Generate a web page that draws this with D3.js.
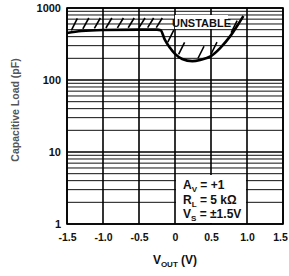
<!DOCTYPE html>
<html>
<head>
<meta charset="utf-8">
<script src="https://cdn.jsdelivr.net/npm/d3@7"></script>
<style>
  body { margin: 0; background: #fff; }
  text { font-family: "Liberation Sans", Arial, sans-serif; font-weight: bold; }
</style>
</head>
<body>
<svg id="chart" width="289" height="276"></svg>
<script>
"use strict";

// boundary of the unstable region
var vout = [-1.5, -1.3, -1.0, -0.5, -0.25, -0.2, -0.14, -0.07, 0.0, 0.1, 0.24, 0.35, 0.5, 0.63, 0.77, 0.88, 0.95];
var capLoad = [450, 480, 495, 500, 500, 490, 360, 280, 230, 196, 183, 190, 215, 280, 410, 600, 775];

var xTicks = [-1.5, -1.0, -0.5, 0, 0.5, 1.0, 1.5];
var xTickLabels = ["-1.5", "-1.0", "-0.5", "0", "0.5", "1.0", "1.5"];
var yTicks = [1, 10, 100, 1000];

// where the hatch slashes sit along the boundary
var hatchV = [-1.44, -1.28, -1.12, -0.96, -0.8, -0.65, -0.5, -0.38, -0.26, -0.1, 0.05, 0.32, 0.5, 0.78];

var margin = { top: 8, right: 6, bottom: 52, left: 67 };
var width = 289, height = 276;

var svg = d3.select("#chart");

var x = d3.scaleLinear().domain([-1.5, 1.5]).range([margin.left, width - margin.right]);
var y = d3.scaleLog().domain([1, 1000]).range([height - margin.bottom, margin.top]);

var grid = svg.append("g");

// minor horizontal grid
var minor = [];
[1, 10, 100].forEach(function (d) {
    for (var k = 2; k <= 9; k++) minor.push(d * k);
});

grid.selectAll(".hminor").data(minor).enter().append("line")
    .attr("x1", x(-1.5)).attr("x2", x(1.5))
    .attr("y1", function (d) { return y(d); })
    .attr("y2", function (d) { return y(d); })
    .attr("stroke", "#111").attr("stroke-width", 1);

grid.selectAll(".hmajor").data(yTicks).enter().append("line")
    .attr("x1", x(-1.5)).attr("x2", x(1.5))
    .attr("y1", function (d) { return y(d); })
    .attr("y2", function (d) { return y(d); })
    .attr("stroke", "#000").attr("stroke-width", 1.5);

grid.selectAll(".vline").data(xTicks).enter().append("line")
    .attr("x1", function (d) { return x(d); })
    .attr("x2", function (d) { return x(d); })
    .attr("y1", y(1)).attr("y2", y(1000))
    .attr("stroke", "#000").attr("stroke-width", 1.6);

// axes (labels only)
var xAxis = d3.axisBottom(x).tickValues(xTicks)
    .tickFormat(function (d, i) { return xTickLabels[i]; })
    .tickSize(0).tickPadding(10);
svg.append("g").attr("transform", "translate(0," + y(1) + ")").call(xAxis)
    .call(function (g) { g.select(".domain").remove(); })
    .selectAll("text").attr("font-size", 10.5).attr("fill", "#111")
    .attr("dx", function (d) { return d === 1.5 ? -3 : 0; })
    .style("font-family", "'Liberation Sans', Arial, sans-serif").style("font-weight", "bold");

var yAxis = d3.axisLeft(y).tickValues(yTicks)
    .tickFormat(d3.format("d")).tickSize(0).tickPadding(6);
svg.append("g").attr("transform", "translate(" + x(-1.5) + ",0)").call(yAxis)
    .call(function (g) { g.select(".domain").remove(); })
    .selectAll("text").attr("font-size", 11).attr("fill", "#111")
    .style("font-family", "'Liberation Sans', Arial, sans-serif").style("font-weight", "bold");

// conditions box
var box = svg.append("g");
box.append("rect")
    .attr("x", x(0) + 1).attr("y", 175)
    .attr("width", x(1.0) - x(0) - 2).attr("height", y(1) - 175 - 1)
    .attr("fill", "#fff");

var note = box.append("text").attr("x", x(0) + 8).attr("font-size", 12).attr("fill", "#111");
var l1 = note.append("tspan").attr("x", x(0) + 8).attr("y", 189);
l1.append("tspan").text("A");
l1.append("tspan").attr("font-size", 8).attr("dy", 3).text("V");
l1.append("tspan").attr("dy", -3).text(" = +1");
var l2 = note.append("tspan").attr("x", x(0) + 8).attr("y", 204);
l2.append("tspan").text("R");
l2.append("tspan").attr("font-size", 8).attr("dy", 3).text("L");
l2.append("tspan").attr("dy", -3).text(" = 5 k\u03A9");
var l3 = note.append("tspan").attr("x", x(0) + 8).attr("y", 218);
l3.append("tspan").text("V");
l3.append("tspan").attr("font-size", 8).attr("dy", 3).text("S");
l3.append("tspan").attr("dy", -3).text(" = \u00B11.5V");

// UNSTABLE label
svg.append("rect").attr("x", 175).attr("y", 15).attr("width", 53).attr("height", 14).attr("fill", "#fff");
svg.append("text").attr("x", 201.5).attr("y", 26.5).attr("text-anchor", "middle")
    .attr("font-size", 11).attr("fill", "#111").text("UNSTABLE");

// boundary curve
var pts = vout.map(function (v, i) { return [v, capLoad[i]]; });
var line = d3.line()
    .x(function (d) { return x(d[0]); })
    .y(function (d) { return y(d[1]); })
    .curve(d3.curveMonotoneX);

svg.append("path").datum(pts)
    .attr("d", line)
    .attr("fill", "none").attr("stroke", "#000")
    .attr("stroke-width", 2.6).attr("stroke-linejoin", "round");

// hatch slashes on the unstable side
var capAt = d3.scaleLinear().domain(vout).range(capLoad);
svg.append("g").selectAll("line").data(hatchV).enter().append("line")
    .attr("x1", function (d) { return x(d); })
    .attr("y1", function (d) { return y(capAt(d)) - 2; })
    .attr("x2", function (d) { return x(d) + 6; })
    .attr("y2", function (d) { return Math.max(y(capAt(d)) - 14, y(1000) + 10); })
    .attr("stroke", "#000").attr("stroke-width", 1.6);

// border
svg.append("rect")
    .attr("x", x(-1.5)).attr("y", y(1000))
    .attr("width", x(1.5) - x(-1.5)).attr("height", y(1) - y(1000))
    .attr("fill", "none").attr("stroke", "#000").attr("stroke-width", 1.6);

// axis titles
var xt = svg.append("text").attr("x", 175).attr("y", 264).attr("text-anchor", "middle")
    .attr("font-size", 12).attr("fill", "#111");
xt.append("tspan").text("V");
xt.append("tspan").attr("font-size", 8).attr("dy", 3).text("OUT");
xt.append("tspan").attr("dy", -3).text(" (V)");

svg.append("text")
    .attr("transform", "translate(19,110) rotate(-90)")
    .attr("text-anchor", "middle").attr("font-size", 10.5).attr("fill", "#555")
    .text("Capacitive Load (pF)");
</script>
</body>
</html>
